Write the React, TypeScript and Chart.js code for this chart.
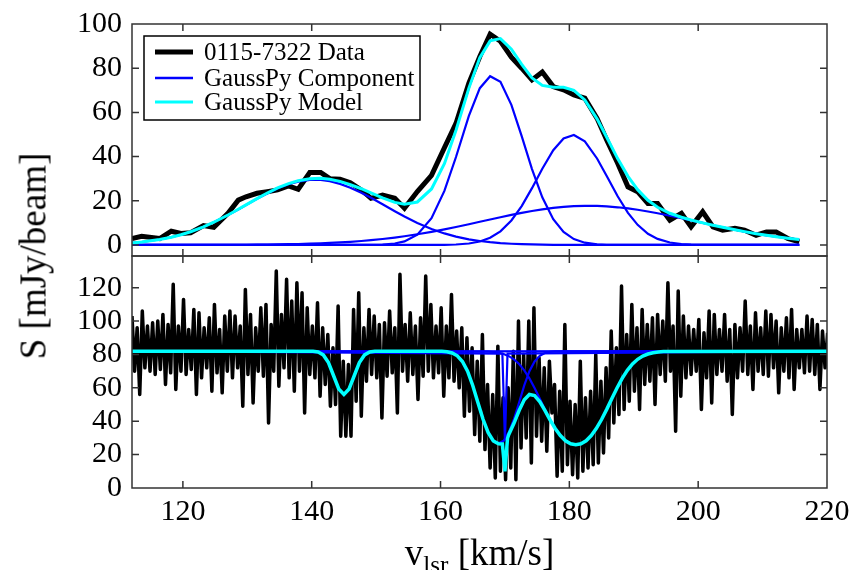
import React, { useEffect, useRef } from 'react';
import { Chart, registerables } from 'chart.js';

Chart.register(...registerables);

const FONT = '"Liberation Serif", "Times New Roman", serif';

// ---------------- top panel (emission spectrum) ----------------
const topVel = [
  112.1, 113.6, 116.4, 118.2, 119.7, 121.2, 123.2, 124.8, 127.0, 128.6,
  129.8, 131.5, 133.1, 134.7, 136.4, 137.9, 139.7, 141.4, 142.8, 144.4,
  146.0, 147.7, 149.2, 151.0, 152.9, 154.4, 156.4, 158.6, 160.6, 162.4,
  164.4, 166.1, 167.7, 169.3, 171.0, 172.6, 174.2, 175.8, 177.5, 179.1,
  180.7, 182.4, 184.3, 185.8, 187.5, 189.1, 190.6, 192.2, 193.7, 195.6,
  197.4, 198.9, 200.7, 202.3, 203.8, 205.7, 207.2, 209.0, 210.6, 212.1,
  213.9, 215.7,
];
const topData = [
  2.9, 3.9, 2.9, 6.2, 5.2, 5.5, 8.8, 8.0, 14.3, 20.3,
  21.8, 23.4, 24.1, 24.9, 26.7, 25.2, 32.8, 32.8, 30.0, 29.8,
  28.2, 24.9, 21.1, 22.6, 21.1, 16.6, 24.2, 31.5, 44.0, 55.0,
  73.2, 85.3, 95.4, 92.2, 85.0, 80.0, 74.7, 78.3, 71.7, 70.2,
  67.9, 66.4, 57.3, 47.5, 37.0, 26.3, 24.1, 18.8, 18.8, 11.2,
  14.3, 8.2, 15.0, 8.2, 6.7, 7.5, 6.7, 4.4, 5.9, 5.9,
  2.9, 1.4,
];
const topComp1 = [
  0.93, 1.33, 2.45, 3.5, 4.62, 5.97, 8.18, 10.25, 13.51, 16.08,
  18.05, 20.85, 23.32, 25.55, 27.45, 28.66, 29.42, 29.4, 28.84, 27.64,
  25.91, 23.62, 21.33, 18.39, 15.26, 12.89, 9.98, 7.25, 5.22, 3.78,
  2.55, 1.78, 1.24, 0.84, 0.55, 0.36, 0.23, 0.14, 0.08, 0.05,
  0.03, 0.02, 0, 0, 0, 0, 0, 0, 0, 0,
  0, 0, 0, 0, 0, 0, 0, 0, 0, 0,
  0, 0,
];
const topComp2 = [
  0, 0, 0, 0, 0, 0, 0, 0, 0, 0,
  0, 0, 0, 0, 0, 0, 0, 0, 0, 0,
  0, 0, 0.05, 0.19, 0.66, 1.62, 4.64, 12.14, 24.45, 39.8,
  58.4, 70.96, 76.36, 73.85, 63.42, 49.23, 34.35, 21.54, 11.67, 5.87,
  2.66, 1.02, 0.3, 0.1, 0.03, 0, 0, 0, 0, 0,
  0, 0, 0, 0, 0, 0, 0, 0, 0, 0,
  0, 0,
];
const topComp3 = [
  0, 0, 0, 0, 0, 0, 0, 0, 0, 0,
  0, 0, 0, 0, 0, 0, 0, 0, 0, 0,
  0, 0, 0, 0, 0, 0, 0, 0, 0.07, 0.21,
  0.66, 1.57, 3.25, 6.16, 11.07, 17.6, 25.7, 34.46, 42.86, 48.2,
  49.77, 46.89, 39.14, 31.18, 22.01, 14.52, 9.1, 5.08, 2.73, 1.11,
  0.43, 0.18, 0.05, 0.02, 0, 0, 0, 0, 0, 0,
  0, 0,
];
const topComp4 = [
  0, 0, 0, 0.01, 0.01, 0.02, 0.02, 0.04, 0.06, 0.08,
  0.1, 0.14, 0.18, 0.24, 0.33, 0.42, 0.57, 0.74, 0.91, 1.15,
  1.43, 1.8, 2.17, 2.7, 3.35, 3.94, 4.83, 5.93, 7.04, 8.12,
  9.38, 10.48, 11.51, 12.54, 13.59, 14.51, 15.35, 16.09, 16.74, 17.21,
  17.53, 17.69, 17.65, 17.45, 17.05, 16.53, 15.92, 15.15, 14.34, 13.22,
  12.09, 11.13, 9.96, 8.93, 8.0, 6.87, 6.04, 5.11, 4.37, 3.74,
  3.06, 2.48,
];
const topModel = [
  0.93, 1.33, 2.45, 3.51, 4.63, 5.99, 8.2, 10.29, 13.57, 16.16,
  18.15, 20.99, 23.5, 25.79, 27.78, 29.08, 29.99, 30.14, 29.75, 28.79,
  27.34, 25.44, 23.55, 21.28, 19.27, 18.45, 19.45, 25.34, 36.78, 51.91,
  70.99, 84.79, 92.36, 93.39, 88.63, 81.7, 75.63, 72.23, 71.35, 71.33,
  69.99, 65.62, 57.09, 48.73, 39.09, 31.05, 25.02, 20.23, 17.07, 14.33,
  12.52, 11.31, 10.01, 8.95, 8.0, 6.87, 6.04, 5.11, 4.37, 3.74,
  3.06, 2.48,
];
const topYTicks = [0, 20, 40, 60, 80, 100];
const xTickValues = [120, 140, 160, 180, 200, 220];

// ---------------- bottom panel (absorption spectrum) ----------------
const botChanStart = 112.1;
const botChanWidth = 0.4;
const botData = [
  103, 70, 96, 56, 106, 72, 97, 70, 99, 68,
  100, 71, 104, 62, 98, 69, 122, 59, 97, 70,
  113, 68, 95, 71, 107, 56, 105, 66, 96, 72,
  102, 58, 110, 69, 95, 57, 103, 70, 106, 66,
  103, 72, 97, 49, 119, 68, 104, 51, 96, 70,
  108, 67, 110, 39, 98, 70, 130, 61, 104, 72,
  125, 66, 112, 58, 123, 70, 117, 45, 108, 68,
  97, 66, 111, 55, 96, 62, 92, 49, 84, 50,
  109, 31, 76, 31, 74, 31, 107, 52, 117, 43,
  96, 64, 107, 68, 103, 66, 98, 42, 99, 67,
  106, 69, 96, 45, 128, 70, 98, 64, 105, 68,
  97, 53, 102, 67, 127, 70, 110, 66, 97, 69,
  108, 55, 97, 66, 116, 64, 94, 60, 96, 43,
  90, 46, 84, 32, 76, 28, 92, 23, 62, 12,
  56, 6, 85, 10, 54, 5, 60, 12, 82, 5,
  100, 24, 80, 30, 100, 15, 108, 31, 78, 28,
  72, 22, 76, 45, 62, 7, 58, 10, 98, 14,
  52, 8, 50, 6, 76, 10, 54, 12, 58, 14,
  80, 15, 64, 21, 72, 30, 94, 39, 84, 44,
  121, 47, 92, 52, 110, 58, 96, 47, 107, 62,
  98, 64, 102, 50, 104, 68, 100, 64, 123, 70,
  97, 34, 118, 55, 103, 66, 97, 68, 95, 70,
  101, 47, 93, 66, 106, 51, 104, 68, 95, 70,
  104, 64, 95, 44, 98, 66, 96, 70, 112, 68,
  97, 59, 105, 70, 96, 68, 106, 67, 104, 72,
  100, 57, 96, 70, 102, 66, 107, 59, 95, 72,
  95, 69, 103, 70, 101, 68, 98, 59, 94, 72,
  93,
];

const absAVel = [112.1, 140.2, 141.0, 141.8, 142.6, 143.4, 144.2, 145.0, 145.8, 146.6, 147.4, 148.2, 149.0, 149.8, 220.0];
const absAVal = [82, 81.91, 81.47, 79.74, 75.11, 67.25, 59.33, 56.02, 59.33, 67.25, 75.11, 79.74, 81.47, 81.91, 82];

const absWVel = [112.1, 160.2, 161.0, 161.8, 162.6, 163.4, 164.2, 165.0, 165.8, 166.6, 167.4, 168.2, 169.0, 169.8, 170.6, 171.4, 172.2, 173.0, 173.8, 174.6, 175.4, 176.2, 177.0, 177.8, 220.0];
const absWVal = [82, 81.87, 81.6, 80.87, 79.19, 75.81, 69.97, 61.46, 51.25, 41.24, 33.31, 28.29, 26.76, 28.29, 33.31, 41.24, 51.25, 61.46, 69.97, 75.81, 79.19, 80.87, 81.6, 81.87, 82];

const absNVel = [112.1, 169.6, 170.0, 170.4, 220.0];
const absNVal = [82, 80.5, 28.7, 80.5, 82];

const absBVel = [112.1, 167.4, 168.2, 169.0, 169.8, 170.6, 171.4, 172.2, 173.0, 173.8, 174.6, 175.4, 176.2, 177.0, 177.8, 178.6, 179.4, 180.2, 181.0, 181.8, 182.6, 183.4, 184.2, 185.0, 185.8, 186.6, 187.4, 188.2, 189.0, 189.8, 190.6, 191.4, 192.2, 193.0, 193.8, 194.6, 220.0];
const absBVal = [82, 81.74, 81.48, 81.03, 80.26, 79.01, 77.1, 74.31, 70.52, 65.68, 59.93, 53.59, 47.12, 41.03, 35.71, 31.45, 28.31, 26.48, 25.96, 26.48, 28.31, 31.45, 35.71, 41.03, 47.12, 53.59, 59.93, 65.68, 70.52, 74.31, 77.1, 79.01, 80.26, 81.03, 81.48, 81.74, 82];

const botModelVel = [
  112.1, 140.2, 141.0, 141.8, 142.6, 143.4, 144.2, 145.0, 145.8, 146.6,
  147.4, 148.2, 149.0, 149.8, 160.2, 161.0, 161.8, 162.6, 163.4, 164.2,
  165.0, 165.8, 166.6, 167.4, 168.2, 169.0, 169.6, 170.0, 170.4, 170.6,
  171.4, 172.2, 173.0, 173.8, 174.6, 175.4, 176.2, 177.0, 177.8, 178.6,
  179.4, 180.2, 181.0, 181.8, 182.6, 183.4, 184.2, 185.0, 185.8, 186.6,
  187.4, 188.2, 189.0, 189.8, 190.6, 191.4, 192.2, 193.0, 193.8, 194.6,
  220.0,
];
const botModelVal = [
  82, 81.91, 81.47, 79.74, 75.11, 67.25, 59.33, 56.02, 59.33, 67.25,
  75.11, 79.74, 81.47, 81.91, 81.87, 81.6, 80.87, 79.19, 75.81, 69.96,
  61.44, 51.19, 41.17, 33.18, 28.21, 26.44, 26.36, 10.0, 29.8, 32.06,
  38.76, 46.43, 52.84, 56.04, 55.41, 51.78, 46.5, 40.84, 35.67, 31.45,
  28.31, 26.48, 25.96, 26.48, 28.31, 31.45, 35.71, 41.03, 47.12, 53.59,
  59.93, 65.68, 70.52, 74.31, 77.1, 79.01, 80.26, 81.03, 81.48, 81.74,
  82,
];
const botYTicks = [0, 20, 40, 60, 80, 100, 120];

const legendLabels = ['0115-7322 Data', 'GaussPy Component', 'GaussPy Model'];
const BLACK = '#000000';
const BLUE = '#0000ff';
const CYAN = '#00ffff';

function pts(xs: number[], ys: number[]) {
  return xs.map((x, i) => ({ x, y: ys[i] }));
}

function makeFramePlugin(yTicks: number[]) {
  return {
    id: 'frameTicks',
    afterDatasetsDraw(chart: any) {
      const { ctx, chartArea: a, scales } = chart;
      ctx.save();
      ctx.strokeStyle = '#333333';
      ctx.lineWidth = 1.5;
      const L = 7;
      ctx.beginPath();
      for (const v of xTickValues) {
        const px = scales.x.getPixelForValue(v);
        if (px <= a.left + 1 || px >= a.right - 1) continue;
        ctx.moveTo(px, a.bottom);
        ctx.lineTo(px, a.bottom - L);
        ctx.moveTo(px, a.top);
        ctx.lineTo(px, a.top + L);
      }
      for (const v of yTicks) {
        const py = scales.y.getPixelForValue(v);
        if (py <= a.top + 1 || py >= a.bottom - 1) continue;
        ctx.moveTo(a.left, py);
        ctx.lineTo(a.left + L, py);
        ctx.moveTo(a.right, py);
        ctx.lineTo(a.right - L, py);
      }
      ctx.stroke();
      ctx.strokeRect(a.left, a.top, a.right - a.left, a.bottom - a.top);
      ctx.restore();
    },
  };
}

const legendPlugin = {
  id: 'boxLegend',
  afterDraw(chart: any) {
    const { ctx, chartArea: a } = chart;
    const bx = a.left + 12;
    const by = a.top + 12;
    const bw = 276;
    const bh = 84;
    ctx.save();
    ctx.fillStyle = '#ffffff';
    ctx.fillRect(bx, by, bw, bh);
    ctx.strokeStyle = '#000000';
    ctx.lineWidth = 1.5;
    ctx.strokeRect(bx, by, bw, bh);
    const items = [
      { label: legendLabels[0], color: BLACK, width: 5, y: by + 16 },
      { label: legendLabels[1], color: BLUE, width: 2.5, y: by + 42 },
      { label: legendLabels[2], color: CYAN, width: 3, y: by + 66 },
    ];
    ctx.font = `25px ${FONT}`;
    ctx.textBaseline = 'middle';
    ctx.textAlign = 'left';
    for (const it of items) {
      ctx.beginPath();
      ctx.strokeStyle = it.color;
      ctx.lineWidth = it.width;
      ctx.lineCap = 'butt';
      ctx.moveTo(bx + 11, it.y);
      ctx.lineTo(bx + 49, it.y);
      ctx.stroke();
      ctx.fillStyle = '#000000';
      ctx.fillText(it.label, bx + 60, it.y + 1);
    }
    ctx.restore();
  },
};

function lineDs(label: string, data: any[], color: string, width: number, order: number, join = 'miter') {
  return {
    label,
    data,
    borderColor: color,
    backgroundColor: color,
    borderWidth: width,
    pointRadius: 0,
    tension: 0,
    fill: false,
    order,
    borderJoinStyle: join,
    borderCapStyle: 'butt',
  };
}

const tickFont = { family: FONT, size: 30 };

function yScale(min: number, max: number, ticks: number[]) {
  return {
    type: 'linear',
    min,
    max,
    grid: { display: false, drawTicks: false },
    border: { display: false },
    ticks: { font: tickFont, color: '#000000', padding: 10, autoSkip: false },
    afterBuildTicks: (s: any) => {
      s.ticks = ticks.map((v) => ({ value: v }));
    },
    afterFit: (s: any) => {
      s.width = 132;
      s.paddingTop = 0;
      s.paddingBottom = 0;
    },
  };
}

export default function App() {
  const topRef = useRef<HTMLCanvasElement | null>(null);
  const botRef = useRef<HTMLCanvasElement | null>(null);

  useEffect(() => {
    const topChart = new Chart(topRef.current as HTMLCanvasElement, {
      type: 'line',
      data: {
        datasets: [
          lineDs(legendLabels[0], pts(topVel, topData), BLACK, 5, 3),
          lineDs(legendLabels[1], pts(topVel, topComp1), BLUE, 2.2, 2),
          lineDs(legendLabels[1], pts(topVel, topComp2), BLUE, 2.2, 2),
          lineDs(legendLabels[1], pts(topVel, topComp3), BLUE, 2.2, 2),
          lineDs(legendLabels[1], pts(topVel, topComp4), BLUE, 2.2, 2),
          lineDs(legendLabels[2], pts(topVel, topModel), CYAN, 3, 1),
        ] as any,
      },
      options: {
        animation: false,
        responsive: false,
        maintainAspectRatio: false,
        events: [],
        layout: { padding: { top: 24, right: 29, bottom: 4, left: 0 } },
        plugins: { legend: { display: false }, tooltip: { enabled: false } },
        scales: {
          x: { type: 'linear', min: 112.1, max: 220, display: false },
          y: yScale(-5, 100, topYTicks),
        },
      } as any,
      plugins: [makeFramePlugin(topYTicks), legendPlugin],
    });

    const botPts = botData.map((y, i) => ({ x: botChanStart + i * botChanWidth, y }));
    const botChart = new Chart(botRef.current as HTMLCanvasElement, {
      type: 'line',
      data: {
        datasets: [
          lineDs(legendLabels[0], botPts, BLACK, 3.5, 3, 'round'),
          lineDs(legendLabels[1], pts(absAVel, absAVal), BLUE, 2.2, 2),
          lineDs(legendLabels[1], pts(absWVel, absWVal), BLUE, 2.2, 2),
          lineDs(legendLabels[1], pts(absNVel, absNVal), BLUE, 2.2, 2),
          lineDs(legendLabels[1], pts(absBVel, absBVal), BLUE, 2.2, 2),
          lineDs(legendLabels[2], pts(botModelVel, botModelVal), CYAN, 3.5, 1),
        ] as any,
      },
      options: {
        animation: false,
        responsive: false,
        maintainAspectRatio: false,
        events: [],
        layout: { padding: { top: 6, right: 29, bottom: 42, left: 0 } },
        plugins: { legend: { display: false }, tooltip: { enabled: false } },
        scales: {
          x: {
            type: 'linear',
            min: 112.1,
            max: 220,
            grid: { display: false, drawTicks: false },
            border: { display: false },
            ticks: { font: tickFont, color: '#000000', padding: 6, maxRotation: 0, autoSkip: false },
            afterBuildTicks: (s: any) => {
              s.ticks = xTickValues.map((v) => ({ value: v }));
            },
            afterFit: (s: any) => {
              s.height = 40;
              s.paddingLeft = 0;
              s.paddingRight = 0;
            },
          },
          y: yScale(0, 139, botYTicks),
        },
      } as any,
      plugins: [makeFramePlugin(botYTicks)],
    });

    return () => {
      topChart.destroy();
      botChart.destroy();
    };
  }, []);

  return (
    <div
      style={{
        position: 'fixed',
        left: 0,
        top: 0,
        width: 856,
        height: 570,
        background: '#ffffff',
        overflow: 'hidden',
        fontFamily: FONT,
        color: '#000000',
      }}
    >
      <canvas ref={topRef} width={856} height={260} style={{ position: 'absolute', left: 0, top: 0 }} />
      <canvas ref={botRef} width={856} height={320} style={{ position: 'absolute', left: 0, top: 250 }} />
      <div
        style={{
          position: 'absolute',
          left: 33,
          top: 256,
          transform: 'translate(-50%, -50%) rotate(-90deg)',
          whiteSpace: 'nowrap',
          fontSize: 37,
          lineHeight: 1,
        }}
      >
        S [mJy/beam]
      </div>
      <div
        style={{
          position: 'absolute',
          left: 132,
          width: 695,
          top: 534,
          textAlign: 'center',
          whiteSpace: 'nowrap',
          fontSize: 37,
          lineHeight: 1,
        }}
      >
        v<span style={{ fontSize: '0.68em', position: 'relative', top: '0.3em' }}>lsr</span> [km/s]
      </div>
    </div>
  );
}
